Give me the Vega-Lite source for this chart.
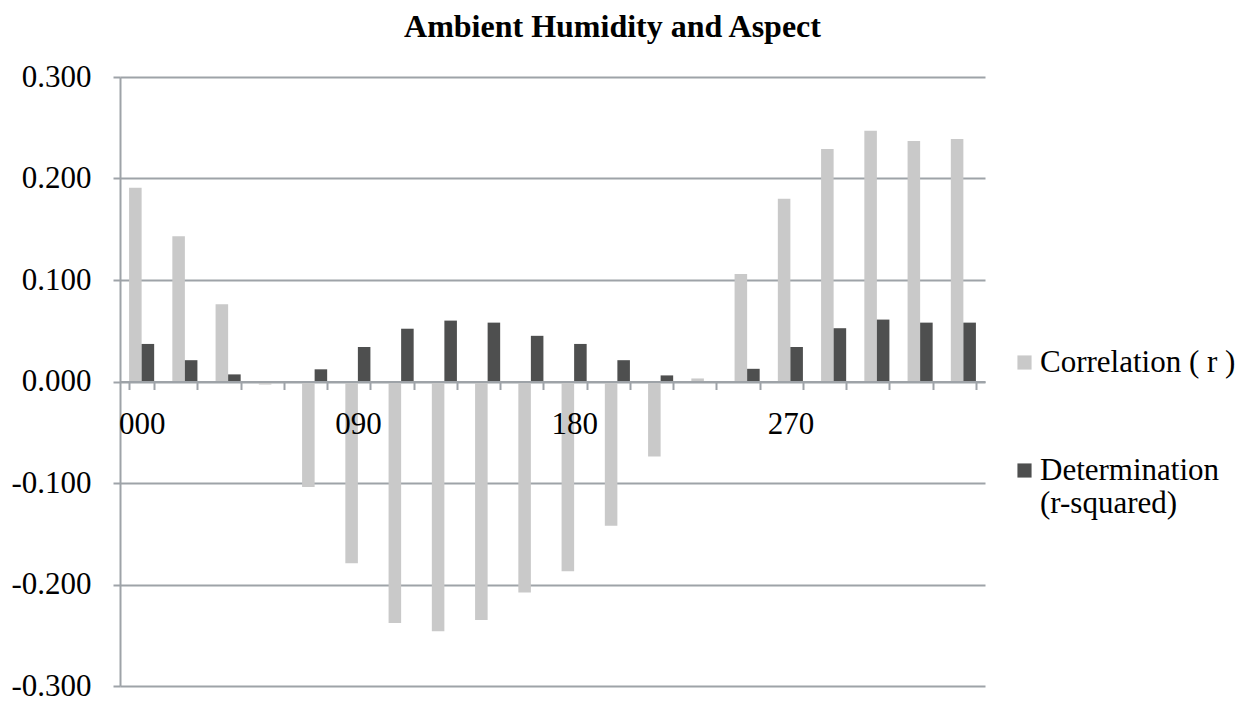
{
  "$schema": "https://vega.github.io/schema/vega-lite/v6.json",
  "autosize": {"type": "none"},
  "width": 865,
  "height": 609,
  "padding": {"left": 120, "top": 77, "right": 270, "bottom": 18},
  "background": "white",
  "title": {
    "text": "Ambient Humidity and Aspect",
    "font": "Liberation Serif",
    "fontSize": 32,
    "fontWeight": "bold",
    "color": "#000000",
    "anchor": "middle",
    "frame": "group",
    "dx": 60,
    "baseline": "alphabetic",
    "offset": -8
  },
  "data": {
    "values": [
      {"aspect": "000", "series": "Correlation ( r )", "value": 0.191},
      {"aspect": "018", "series": "Correlation ( r )", "value": 0.143},
      {"aspect": "036", "series": "Correlation ( r )", "value": 0.076},
      {"aspect": "054", "series": "Correlation ( r )", "value": -0.003},
      {"aspect": "072", "series": "Correlation ( r )", "value": -0.104},
      {"aspect": "090", "series": "Correlation ( r )", "value": -0.179},
      {"aspect": "108", "series": "Correlation ( r )", "value": -0.238},
      {"aspect": "126", "series": "Correlation ( r )", "value": -0.246},
      {"aspect": "144", "series": "Correlation ( r )", "value": -0.235},
      {"aspect": "162", "series": "Correlation ( r )", "value": -0.208},
      {"aspect": "180", "series": "Correlation ( r )", "value": -0.187},
      {"aspect": "198", "series": "Correlation ( r )", "value": -0.142},
      {"aspect": "216", "series": "Correlation ( r )", "value": -0.074},
      {"aspect": "234", "series": "Correlation ( r )", "value": 0.003},
      {"aspect": "252", "series": "Correlation ( r )", "value": 0.106},
      {"aspect": "270", "series": "Correlation ( r )", "value": 0.180},
      {"aspect": "288", "series": "Correlation ( r )", "value": 0.229},
      {"aspect": "306", "series": "Correlation ( r )", "value": 0.247},
      {"aspect": "324", "series": "Correlation ( r )", "value": 0.237},
      {"aspect": "342", "series": "Correlation ( r )", "value": 0.239},
      {"aspect": "000", "series": "Determination (r-squared)", "value": 0.037},
      {"aspect": "018", "series": "Determination (r-squared)", "value": 0.021},
      {"aspect": "036", "series": "Determination (r-squared)", "value": 0.007},
      {"aspect": "054", "series": "Determination (r-squared)", "value": 0.0},
      {"aspect": "072", "series": "Determination (r-squared)", "value": 0.012},
      {"aspect": "090", "series": "Determination (r-squared)", "value": 0.034},
      {"aspect": "108", "series": "Determination (r-squared)", "value": 0.052},
      {"aspect": "126", "series": "Determination (r-squared)", "value": 0.060},
      {"aspect": "144", "series": "Determination (r-squared)", "value": 0.058},
      {"aspect": "162", "series": "Determination (r-squared)", "value": 0.045},
      {"aspect": "180", "series": "Determination (r-squared)", "value": 0.037},
      {"aspect": "198", "series": "Determination (r-squared)", "value": 0.021},
      {"aspect": "216", "series": "Determination (r-squared)", "value": 0.006},
      {"aspect": "234", "series": "Determination (r-squared)", "value": 0.0},
      {"aspect": "252", "series": "Determination (r-squared)", "value": 0.0125},
      {"aspect": "270", "series": "Determination (r-squared)", "value": 0.034},
      {"aspect": "288", "series": "Determination (r-squared)", "value": 0.0525},
      {"aspect": "306", "series": "Determination (r-squared)", "value": 0.061},
      {"aspect": "324", "series": "Determination (r-squared)", "value": 0.058},
      {"aspect": "342", "series": "Determination (r-squared)", "value": 0.058}
    ]
  },
  "mark": {"type": "bar", "strokeWidth": 0},
  "encoding": {
    "x": {
      "field": "aspect",
      "type": "nominal",
      "sort": null,
      "scale": {"paddingInner": 0.42, "paddingOuter": 0.21},
      "axis": {
        "title": null,
        "orient": "bottom",
        "offset": -304.5,
        "zindex": 1,
        "labelAngle": 0,
        "labelExpr": "indexof(['000','090','180','270'], datum.value) >= 0 ? datum.value : ''",
        "labelFont": "Liberation Serif",
        "labelFontSize": 31,
        "labelColor": "#000000",
        "labelPadding": 20,
        "labelOverlap": false,
        "tickBand": "extent",
        "tickSize": 8,
        "tickWidth": 2,
        "tickColor": "#9ea3a8",
        "domainColor": "#9ea3a8",
        "domainWidth": 2,
        "grid": false
      }
    },
    "xOffset": {
      "field": "series",
      "type": "nominal",
      "scale": {"paddingInner": 0, "paddingOuter": 0}
    },
    "y": {
      "field": "value",
      "type": "quantitative",
      "scale": {"domain": [-0.3, 0.3], "nice": false, "zero": false},
      "axis": {
        "title": null,
        "values": [-0.3, -0.2, -0.1, 0, 0.1, 0.2, 0.3],
        "labelExpr": "(datum.value < 0 ? '-' : '') + format(abs(datum.value), '.3f')",
        "labelFont": "Liberation Serif",
        "labelFontSize": 31,
        "labelColor": "#000000",
        "labelPadding": 22,
        "tickSize": 7,
        "tickWidth": 2,
        "tickColor": "#9ea3a8",
        "domain": true,
        "domainColor": "#9ea3a8",
        "domainWidth": 2,
        "grid": true,
        "gridColor": "#9ea3a8",
        "gridWidth": 2
      }
    },
    "color": {
      "field": "series",
      "type": "nominal",
      "scale": {
        "domain": ["Correlation ( r )", "Determination (r-squared)"],
        "range": ["#c9c9c9", "#4e4f4f"]
      },
      "legend": {
        "title": null,
        "orient": "none",
        "legendX": 889,
        "legendY": 270,
        "symbolType": "square",
        "symbolSize": 200,
        "symbolStrokeWidth": 0,
        "labelFont": "Liberation Serif",
        "labelFontSize": 31,
        "labelColor": "#000000",
        "labelLimit": 400,
        "labelOffset": 0,
        "rowPadding": 76,
        "labelExpr": "datum.label == 'Determination (r-squared)' ? ['Determination', '(r-squared)'] : datum.label"
      }
    }
  },
  "config": {
    "view": {"stroke": null},
    "axis": {"gridCap": "butt"}
  }
}
